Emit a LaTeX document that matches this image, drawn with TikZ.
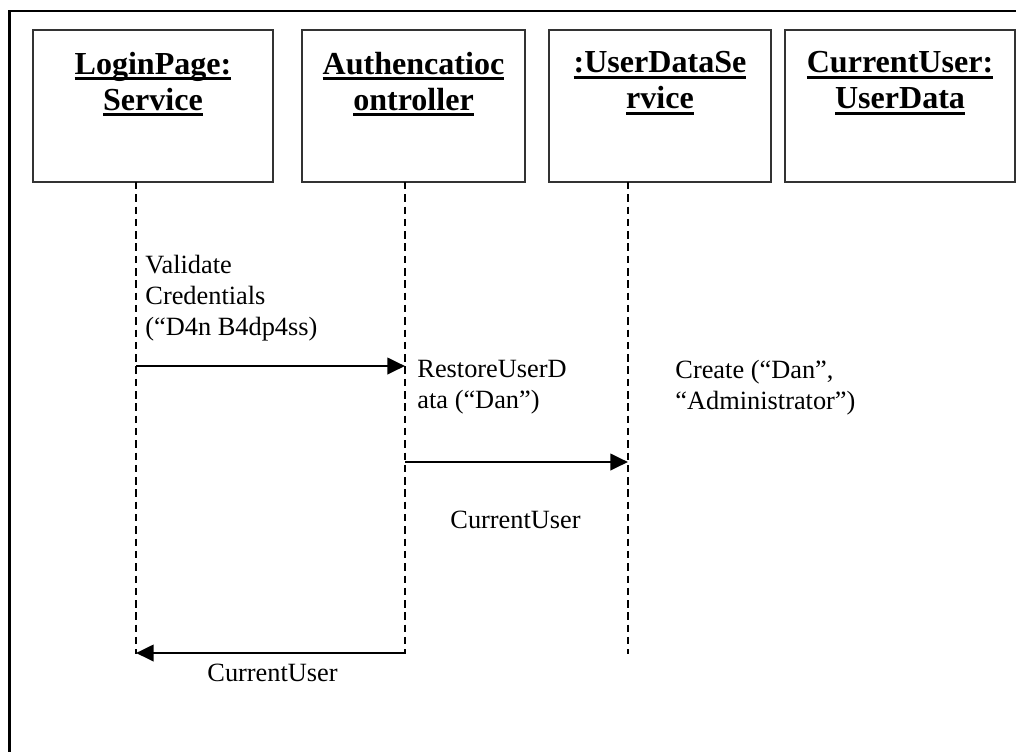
\documentclass[tikz,border=0pt]{standalone}
\usepackage{fontspec}
\setmainfont{Liberation Serif}
\usetikzlibrary{arrows.meta,positioning,calc}
\newcommand{\objul}[1]{\leavevmode\setbox0\hbox{#1}\rlap{\rule[-2.8pt]{\wd0}{1.4pt}}\box0}

\begin{document}
\begin{tikzpicture}[x=0.016cm, y=-0.016cm,
    objbox/.style={draw=black!80, line width=1.1pt, minimum height=2.432cm, inner sep=0pt},
    objtitle/.style={align=center, inner sep=0pt, font=\fontsize{14.6}{16.4}\selectfont\bfseries},
    lifeline/.style={line width=1pt, dash pattern=on 3.4pt off 2.2pt},
    msg/.style={line width=1.3pt, -{Triangle[length=8pt, width=7.4pt]}},
    msglabel/.style={align=left, inner sep=0pt, font=\fontsize{12}{14}\selectfont}]
    \useasboundingbox (0,0) rectangle (1016,751);
    % Frame
    \draw[line width=1.3pt] (9.5,11) rectangle (1040,780);

    % Objects
    \node[objbox, minimum width=3.84cm] (lp) at (153,106) {};
    \node[objbox, minimum width=3.57cm] (ac) at (413.5,106) {};
    \node[objbox, minimum width=3.55cm] (uds) at (660,106) {};
    \node[objbox, minimum width=3.68cm] (cu) at (900,106) {};
    \node[objtitle, below=0.36cm of lp.north] (lp-title) {\objul{LoginPage:}\\\objul{Service}};
    \node[objtitle, below=0.36cm of ac.north] (ac-title) {\objul{Authencatioc}\\\objul{ontroller}};
    \node[objtitle, below=0.36cm of uds.north] (uds-title) {\objul{:UserDataSe}\\\objul{rvice}};
    \node[objtitle, below=0.36cm of cu.north] (cu-title) {\objul{CurrentUser:}\\\objul{UserData}};

    % Lifelines
    \coordinate (lp-l) at (136,182);
    \coordinate (ac-l) at (405,182);
    \coordinate (uds-l) at (628,182);
    \coordinate (bottom) at (0,654);
    \foreach \obj in {lp,ac,uds}
        \draw[lifeline] (\obj-l) -- (\obj-l |- bottom);

    % Messages
    \coordinate (row1) at (0,366);
    \coordinate (row2) at (0,462);
    \coordinate (row3) at (0,653);
    \draw[msg] (lp-l |- row1) -- (ac-l |- row1);
    \draw[msg] (ac-l |- row2) -- (uds-l |- row2);
    \draw[msg] (ac-l |- row3) -- (lp-l |- row3);

    % Labels
    \node[msglabel, anchor=north west] (validate) at (145,255) {Validate\\Credentials\\(“D4n B4dp4ss)};
    \node[msglabel, anchor=north west] (restore) at (417,360) {RestoreUserD\\ata (“Dan”)};
    \node[msglabel, anchor=north west] (create) at (675,360) {Create (“Dan”,\\“Administrator”)};
    \node[msglabel, anchor=base west] (reply1) at (450,528) {CurrentUser};
    \node[msglabel, anchor=base west] (reply2) at (207,681) {CurrentUser};
\end{tikzpicture}
\end{document}
